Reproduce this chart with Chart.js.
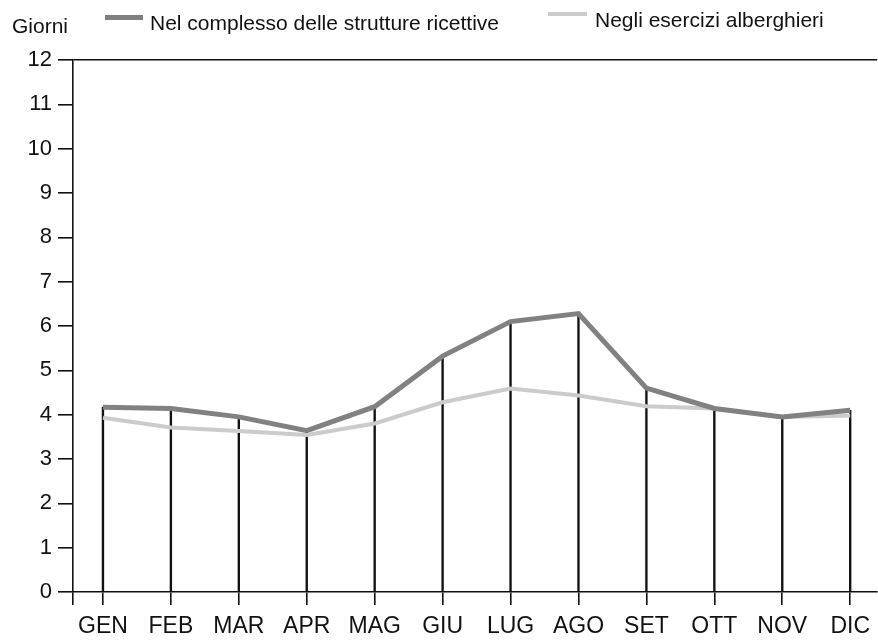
<!DOCTYPE html>
<html>
<head>
<meta charset="utf-8">
<script src="https://cdn.jsdelivr.net/npm/chart.js@4.4.1/dist/chart.umd.min.js"></script>
<style>
html,body{margin:0;padding:0;background:#fff;}
#wrap{position:relative;width:878px;height:641px;font-family:"Liberation Sans",Arial,Helvetica,sans-serif;color:#111;}
#c{position:absolute;left:0;top:0;}
.t{position:absolute;font-size:21px;line-height:21px;white-space:nowrap;color:#111;}
.sw{position:absolute;}
</style>
</head>
<body>
<div id="wrap">
  <canvas id="c" width="878" height="641"></canvas>
  <div class="t" id="ytitle" style="left:12px;top:15px"></div>
  <div class="sw" id="sw1" style="left:105px;top:15px;width:38px;height:5px"></div>
  <div class="t" id="lab1" style="left:150px;top:12px"></div>
  <div class="sw" id="sw2" style="left:548px;top:12px;width:39px;height:4px"></div>
  <div class="t" id="lab2" style="left:595px;top:9px"></div>
</div>
<script>
// ---- data ----
const months = ["GEN","FEB","MAR","APR","MAG","GIU","LUG","AGO","SET","OTT","NOV","DIC"];
const seriesNames = ["Nel complesso delle strutture ricettive","Negli esercizi alberghieri"];
const complessoStrutture = [4.17, 4.14, 3.95, 3.64, 4.18, 5.32, 6.10, 6.28, 4.60, 4.14, 3.95, 4.10];
const eserciziAlberghieri = [3.93, 3.71, 3.63, 3.54, 3.80, 4.28, 4.59, 4.43, 4.19, 4.14, 3.95, 3.98];
const yAxisTitle = "Giorni";
const yMin = 0, yMax = 12, yStep = 1;

// ---- styles ----
const DARK = "#818181";
const LIGHT = "#cbcbcb";
const INK = "#111111";
const FAMILY = '"Liberation Sans", Arial, Helvetica, sans-serif';
const X_MIN = -0.441, X_MAX = 11.397;

document.getElementById("ytitle").textContent = yAxisTitle;
document.getElementById("lab1").textContent = seriesNames[0];
document.getElementById("lab2").textContent = seriesNames[1];
document.getElementById("sw1").style.background = DARK;
document.getElementById("sw2").style.background = LIGHT;

const toXY = arr => arr.map((v, i) => ({x: i, y: v}));

new Chart(document.getElementById("c"), {
  type: "line",
  data: {
    datasets: [
      {label: seriesNames[0], data: toXY(complessoStrutture), borderColor: DARK, backgroundColor: DARK,
       borderWidth: 5, pointRadius: 0, tension: 0, order: 1, borderJoinStyle: "miter"},
      {label: seriesNames[1], data: toXY(eserciziAlberghieri), borderColor: LIGHT, backgroundColor: LIGHT,
       borderWidth: 4, pointRadius: 0, tension: 0, order: 2, borderJoinStyle: "miter"},
      {type: "bar", label: "drop", data: toXY(complessoStrutture), backgroundColor: INK,
       barThickness: 1.7, order: 3}
    ]
  },
  options: {
    responsive: false,
    animation: false,
    devicePixelRatio: 1,
    layout: {padding: {top: 60, left: 0, right: 0, bottom: 0}},
    plugins: {legend: {display: false}, tooltip: {enabled: false}},
    scales: {
      x: {
        type: "linear", min: X_MIN, max: X_MAX, offset: false,
        afterBuildTicks: s => { s.ticks = [{value: X_MIN}].concat(months.map((m, i) => ({value: i}))); },
        afterFit: s => { s.height = 49; },
        ticks: {autoSkip: false, maxRotation: 0, minRotation: 0, padding: 8, color: INK,
                font: {family: FAMILY, size: 23},
                callback: v => Number.isInteger(v) ? months[v] : ""},
        grid: {drawOnChartArea: false, tickLength: 13, tickColor: INK, lineWidth: 1.6, offset: false},
        border: {display: true, color: INK, width: 1.6}
      },
      y: {
        min: yMin, max: yMax,
        afterFit: s => { s.width = 73; },
        ticks: {stepSize: yStep, padding: 6, color: INK, font: {family: FAMILY, size: 22}},
        grid: {drawOnChartArea: true,
               color: c => (c.tick && c.tick.value === yMax) ? INK : "rgba(0,0,0,0)",
               tickColor: INK, tickLength: 15, lineWidth: 1.6},
        border: {display: true, color: INK, width: 1.6}
      }
    }
  }
});
</script>
</body>
</html>
